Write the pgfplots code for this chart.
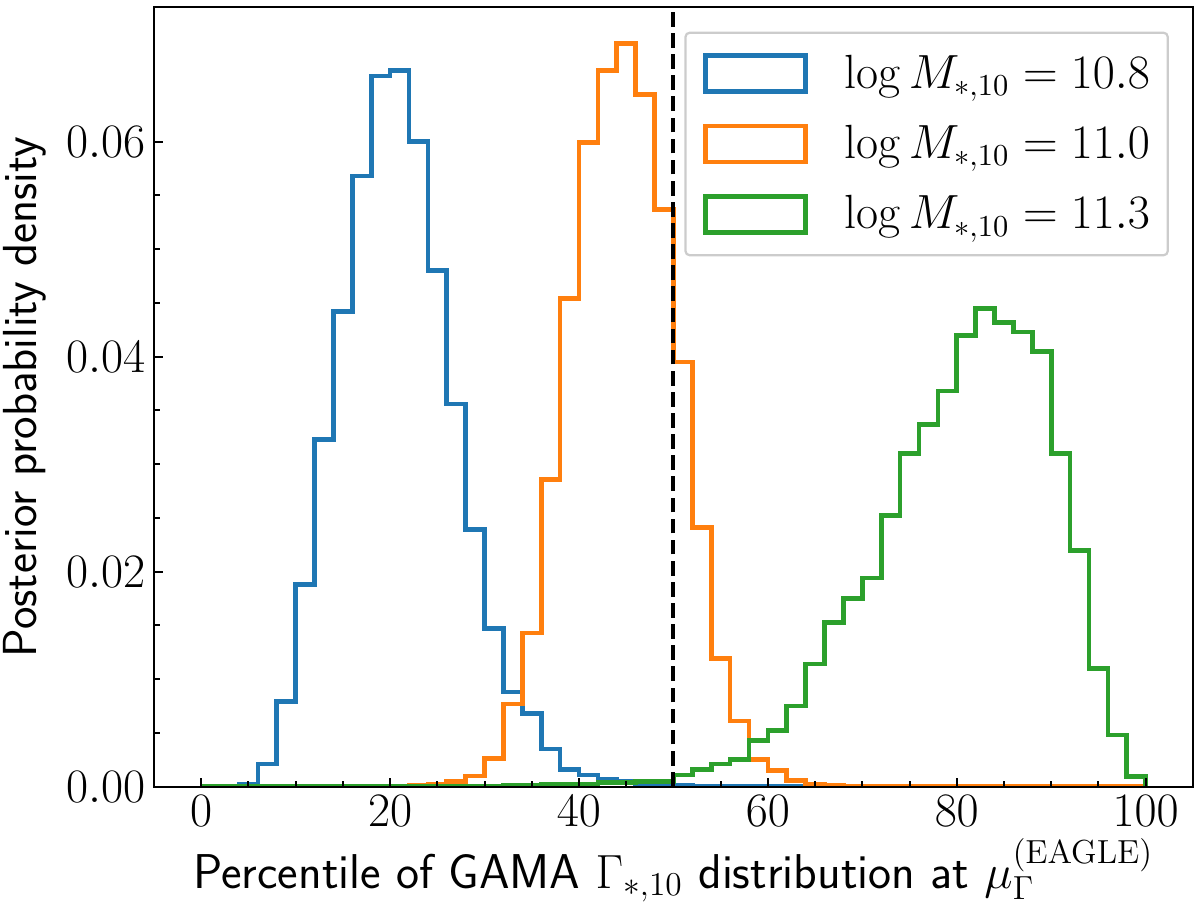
\documentclass[border=0pt]{standalone}
\usepackage{pgfplots}
\pgfplotsset{compat=1.18}
\definecolor{tabblue}{HTML}{1F77B4}
\definecolor{taborange}{HTML}{FF7F0E}
\definecolor{tabgreen}{HTML}{2CA02C}
\pgfplotstableread{
x y
0 0
0 0
2 0.00003
4 0.00025
6 0.0021
8 0.0079
10 0.0188
12 0.0323
14 0.0442
16 0.0568
18 0.0661
20 0.0666
22 0.0600
24 0.0480
26 0.0356
28 0.0239
30 0.0147
32 0.0088
34 0.0068
36 0.0035
38 0.0016
40 0.0011
42 0.0007
44 0.0005
46 0.00025
48 0.00015
50 0.00008
52 0.00005
54 0.00003
56 0.00002
58 0
60 0
62 0
64 0
66 0
68 0
70 0
72 0
74 0
76 0
78 0
80 0
82 0
84 0
86 0
88 0
90 0
92 0
94 0
96 0
98 0
100 0
100 0
}\blue
\pgfplotstableread{
x y
0 0
0 0
2 0
4 0
6 0
8 0
10 0
12 0
14 0
16 0
18 0
20 0.00003
22 0.0001
24 0.0002
26 0.0005
28 0.0010
30 0.0026
32 0.0077
34 0.0143
36 0.0286
38 0.0454
40 0.0599
42 0.0666
44 0.0691
46 0.0644
48 0.0537
50 0.0395
52 0.0241
54 0.0119
56 0.0061
58 0.0025
60 0.0015
62 0.0006
64 0.00025
66 0.00012
68 0.00005
70 0.00002
72 0
74 0
76 0
78 0
80 0
82 0
84 0
86 0
88 0
90 0
92 0
94 0
96 0
98 0
100 0
100 0
}\orange
\pgfplotstableread{
x y
0 0
0 0
2 0
4 0
6 0
8 0
10 0
12 0
14 0
16 0
18 0
20 0.00002
22 0.00002
24 0.00002
26 0.00002
28 0.00002
30 0.00005
32 0.0001
34 0.00015
36 0.0002
38 0.00025
40 0.00025
42 0.0004
44 0.0004
46 0.0005
48 0.0005
50 0.0011
52 0.0016
54 0.0021
56 0.0025
58 0.0043
60 0.0052
62 0.0075
64 0.0114
66 0.0153
68 0.0175
70 0.0194
72 0.0252
74 0.0310
76 0.0337
78 0.0368
80 0.0420
82 0.0445
84 0.0432
86 0.0423
88 0.0405
90 0.0310
92 0.0220
94 0.0110
96 0.0048
98 0.00095
100 0.00095
100 0
}\green
\begin{document}
\begin{tikzpicture}
\begin{axis}[
  width=374pt, height=280.6pt, scale only axis,
  xmin=-5, xmax=105, ymin=0, ymax=0.0725,
  xtick={0,20,40,60,80,100}, minor x tick num=3,
  ytick={0,0.02,0.04,0.06}, minor y tick num=3,
  scaled y ticks=false,
  yticklabel={\pgfmathprintnumber[fixed,fixed zerofill,precision=2]{\tick}},
  tick align=inside, tick pos=left,
  major tick length=3.3pt, minor tick length=2pt,
  every tick/.style={black, line width=0.7pt},
  axis line style={line width=0.75pt},
  axis on top,
  tick label style={font=\fontsize{16}{19}\selectfont},
  xticklabel style={inner ysep=3pt},
  yticklabel style={inner xsep=3pt},
  xlabel={Percentile of GAMA $\Gamma_{*,10}$ distribution at $\mu_\Gamma^{(\mathrm{EAGLE})}$},
  ylabel={Posterior probability density},
  xlabel style={font=\fontsize{17.6}{21}\selectfont\sffamily, at={(axis description cs:0.5,-0.1304)}, anchor=base},
  ylabel style={font=\fontsize{17.2}{21}\selectfont\sffamily, at={(axis description cs:-0.1131,0.5)}, anchor=base, rotate=0},
  legend cell align=left,
  legend image code/.code={\draw[#1, line width=1.7pt, sharp corners] (0pt,-6.5pt) rectangle (36pt,6.5pt);},
  legend style={at={(0.9769,0.9687)}, anchor=north east,
    draw=black!20, line width=0.8pt, rounded corners=1.5pt,
    fill=white, fill opacity=0.8, text opacity=1,
    font=\fontsize{16}{19}\selectfont,
    inner xsep=6.4pt, inner ysep=7.4pt,
    row sep=10.6pt, column sep=13pt,
    nodes={inner sep=0pt}},
]
\addplot[const plot, tabblue, line width=1.7pt] table {\blue};
\addlegendentry{$\log M_{*,10} = 10.8$}
\addplot[const plot, taborange, line width=1.7pt] table {\orange};
\addlegendentry{$\log M_{*,10} = 11.0$}
\addplot[const plot, tabgreen, line width=1.7pt] table {\green};
\addlegendentry{$\log M_{*,10} = 11.3$}
\addplot[black, line width=1.45pt, dash pattern=on 5.3pt off 2.3pt, forget plot] coordinates {(50,0) (50,0.0725)};
\end{axis}
\pgfresetboundingbox
\path[use as bounding box] ([shift={(-55.44pt,-44.03pt)}]current axis.south west) rectangle ++(432pt,327.24pt);
\end{tikzpicture}
\end{document}
